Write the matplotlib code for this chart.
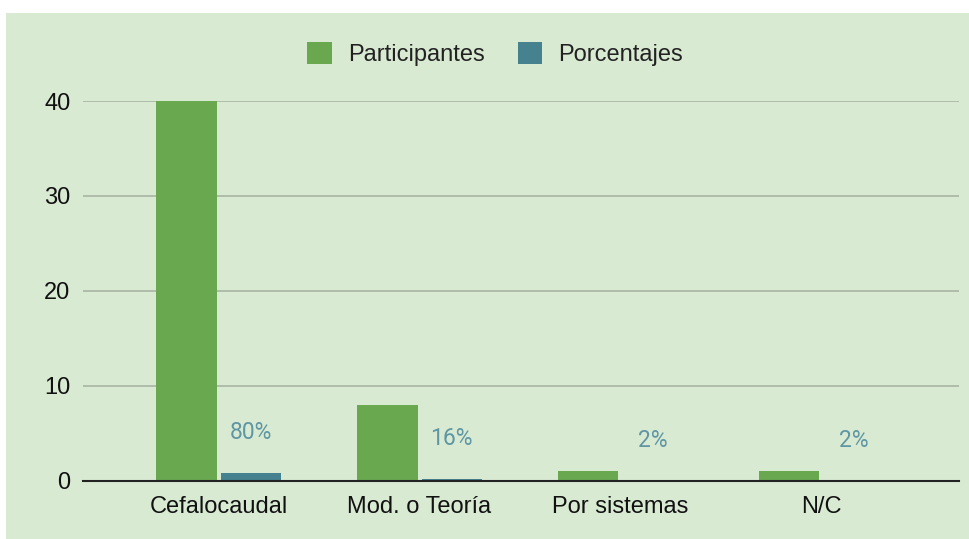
import numpy as np
import matplotlib
matplotlib.use("Agg")
import matplotlib.pyplot as plt
from matplotlib.patches import Rectangle

categories = ["Cefalocaudal", "Mod. o Teoría", "Por sistemas", "N/C"]
participantes = [40, 8, 1, 1]
porcentajes = [0.80, 0.16, 0.02, 0.02]
porcentaje_labels = ["80%", "16%", "2%", "2%"]
y_ticks = [0, 10, 20, 30, 40]

bg = "#d9ead3"
green = "#6aa84f"
teal = "#45818e"

plt.rcParams['font.family'] = ['Liberation Sans', 'DejaVu Sans']

fig = plt.figure(figsize=(9.7, 5.39), dpi=100)
fig.patch.set_facecolor("white")
fig.add_artist(Rectangle((6 / 970, 0), 1, 1 - 13 / 539, transform=fig.transFigure,
                         facecolor=bg, edgecolor="none", zorder=-10))

ax = fig.add_axes([83 / 970, 1 - 480.5 / 539, (959 - 83) / 970, (480.5 - 101) / 539])
ax.set_facecolor("none")
ax.set_zorder(5)

x = np.arange(len(categories))
w = 0.30
off = 0.16
ax.bar(x - off, participantes, width=w, color=green, label="Participantes", zorder=3)
ax.bar(x + off, porcentajes, width=w, color=teal, label="Porcentajes", zorder=3)

# data labels sit well above the (tiny) percentage bars
for xi, v, lab in zip(x, porcentajes, porcentaje_labels):
    ax.annotate(lab, (xi + off, v), xytext=(0, 29), textcoords="offset points",
                ha="center", va="center", fontsize=16.5, color="#5f96a3",
                family=["Roboto", "DejaVu Sans"], clip_on=False)

ax.set_xlim(-0.675, 3.685)
ax.set_ylim(0, 40)
ax.set_yticks(y_ticks)
ax.set_xticks(x)
ax.set_xticklabels(categories)
ax.tick_params(axis="both", length=0, labelsize=17, colors="#111111")
ax.tick_params(axis="y", pad=9)
ax.tick_params(axis="x", pad=11.5)
ax.grid(axis="y", color="#a7b5a2", linewidth=1.2, zorder=1)
for s in ["top", "right", "left"]:
    ax.spines[s].set_visible(False)
ax.spines["bottom"].set_color("#222222")
ax.spines["bottom"].set_linewidth(1.5)
ax.spines["bottom"].set_zorder(4)

leg = ax.legend(loc="center", bbox_to_anchor=(495 / 970, 1 - 54 / 539), bbox_transform=fig.transFigure,
                ncol=2, frameon=False, fontsize=17, handlelength=1.05, handleheight=1.05,
                handletextpad=0.68, columnspacing=1.4)
for t in leg.get_texts():
    t.set_color("#222222")

fig.savefig("out.png", dpi=100)
